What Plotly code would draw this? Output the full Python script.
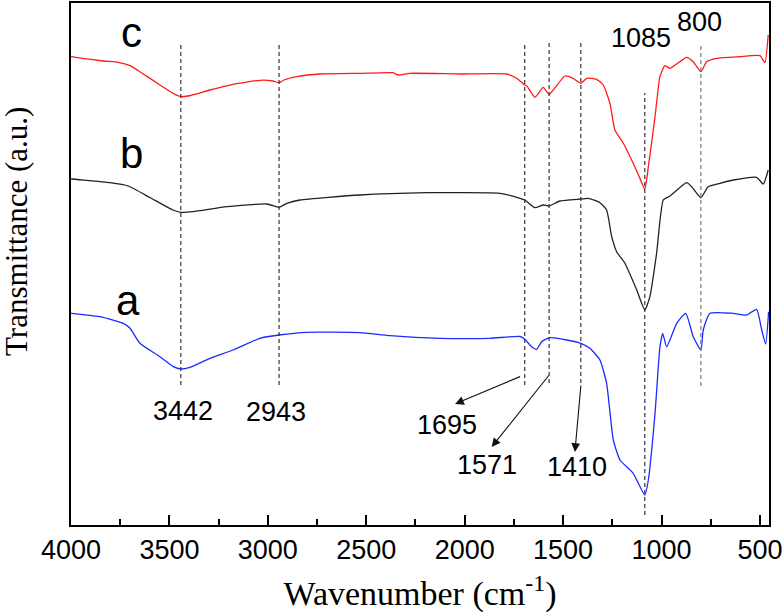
import plotly.graph_objects as go

# ---- data ----
wn_c = [4000, 3996, 3837, 3761, 3700, 3650, 3548, 3482, 3442, 3406, 3294, 3177, 3040, 2974, 2943, 2918, 2852, 2735,
        2532, 2364, 2339, 2278, 2024, 1787, 1736, 1695, 1684, 1643, 1601, 1571, 1491, 1450, 1410, 1380, 1330, 1296,
        1262, 1237, 1194, 1144, 1110, 1085, 1067, 1033, 1008, 983, 957, 872, 839, 800, 771, 720, 602, 500, 475, 458]
t_c = [468.5, 468.3, 464, 462.7, 459.3, 453.3, 440, 431.7, 428.3, 429, 435, 440.7, 444.7, 444, 442.3, 445, 448.3, 451,
       451.7, 452.3, 450, 451.7, 451, 451, 446.7, 440, 439, 427.7, 437.7, 430.7, 449, 446.7, 441.7, 446.7, 445.7, 440,
       421.7, 395, 381.7, 361.7, 346.7, 336, 358.3, 408.3, 448.3, 459.3, 456.7, 467.7, 463.3, 453.3, 463.3, 466.7,
       468.3, 469.3, 462.3, 490]

wn_b = [4000, 3995, 3802, 3710, 3599, 3482, 3442, 3380, 3208, 3004, 2943, 2903, 2837, 2532, 2192, 2024, 1821, 1719,
        1695, 1643, 1601, 1571, 1516, 1410, 1372, 1313, 1279, 1253, 1228, 1186, 1126, 1085, 1059, 1025, 991, 957,
        872, 847, 800, 763, 703, 636, 517, 483, 458]
t_b = [346.2, 346, 342.3, 339, 327.5, 315, 312.7, 313.3, 318.3, 321, 317.7, 321.7, 325, 330, 332.3, 332.3, 331.7, 326.7,
       325, 317.3, 320, 319, 324, 326, 326.7, 322.3, 315, 288.3, 273.3, 261.7, 235, 215, 228.3, 271.7, 325, 329,
       342.3, 338.3, 327.3, 338.3, 341.7, 345, 347.7, 341, 355]

wn_a = [4000, 3996, 3853, 3734, 3700, 3650, 3548, 3480, 3442, 3396, 3294, 3177, 3040, 2943, 2803, 2532, 2380, 2126,
        1872, 1719, 1695, 1660, 1634, 1609, 1567, 1482, 1410, 1364, 1313, 1279, 1245, 1211, 1144, 1085, 1067, 1033,
        1008, 994, 974, 923, 877, 839, 800, 788, 754, 636, 568, 517, 491, 471, 456]
t_a = [211.9, 211.7, 208.3, 201.7, 196.7, 181.7, 168.3, 158.3, 156, 157.7, 166.7, 175, 186.7, 190, 192.7, 192.3, 189.3,
       186.7, 186.7, 188.5, 185.7, 178.3, 175.7, 183.3, 187.3, 185, 181.7, 176.7, 165, 141.7, 85, 65, 51.7, 30, 45,
       111.7, 178.3, 191.7, 178.3, 201.7, 211.7, 188.3, 175, 195, 211.7, 211.7, 210, 215.7, 195, 181, 213.3]

# marked peaks and their dashed guide lines
peak_wn = [3442, 2943, 1695, 1571, 1410, 1085, 800]
peak_labels = ["3442", "2943", "1695", "1571", "1410", "1085", "800"]
line_top = [482, 482, 482, 483, 482, 432, 482]
line_bottom = [140, 140, 140, 142, 142, 10, 139]
line_colors = ["#333333", "#333333", "#333333", "#333333", "#333333", "#333333", "#777777"]
label_x = [3433, 2960, 2092, 1888, 1431, 1105, 805]
label_y = [114, 113, 100, 60, 58, 487, 503]
# arrows: (tail -> head) for the three labels set below the spectra
arrow_tail_wn = [1711, 1567, 1409]
arrow_tail_t = [149, 151, 141]
arrow_head_wn = [2049, 1863, 1440]
arrow_head_t = [121, 78, 73]

curve_names = ["c", "b", "a"]
curve_label_wn = [3692, 3695, 3708]
curve_label_t = [493, 372, 225]

x_ticks = [4000, 3500, 3000, 2500, 2000, 1500, 1000, 500]

fig = go.Figure()
line_shape = dict(shape="spline", smoothing=0.5)
fig.add_trace(go.Scatter(x=wn_c, y=t_c, mode="lines", line=dict(color="#ff1a1a", width=1.3, **line_shape), name="c"))
fig.add_trace(go.Scatter(x=wn_b, y=t_b, mode="lines", line=dict(color="#222222", width=1.3, **line_shape), name="b"))
fig.add_trace(go.Scatter(x=wn_a, y=t_a, mode="lines", line=dict(color="#1a2cff", width=1.3, **line_shape), name="a"))

for w, y0, y1, c in zip(peak_wn, line_bottom, line_top, line_colors):
    fig.add_shape(type="line", x0=w, x1=w, y0=y0, y1=y1, xref="x", yref="y",
                  line=dict(color=c, width=1.2, dash="4px,3px"))

for lx, ly, txt in zip(label_x, label_y, peak_labels):
    fig.add_annotation(x=lx, y=ly, text=txt, showarrow=False, xref="x", yref="y",
                       font=dict(family="Liberation Sans, Arial", size=27, color="black"))

for tx, ty, hx, hy in zip(arrow_tail_wn, arrow_tail_t, arrow_head_wn, arrow_head_t):
    fig.add_annotation(x=hx, y=hy, ax=tx, ay=ty, xref="x", yref="y", axref="x", ayref="y",
                       text="", showarrow=True, arrowhead=2, arrowsize=1.6, arrowwidth=1.1,
                       arrowcolor="#111111")

for n, lx, ly in zip(curve_names, curve_label_wn, curve_label_t):
    fig.add_annotation(x=lx, y=ly, text=n, showarrow=False, xref="x", yref="y",
                       font=dict(family="Liberation Sans, Arial", size=42, color="black"))

# y-axis title (placed as rotated text left of the plot)
fig.add_annotation(text="Transmittance (a.u.)", xref="paper", yref="paper", x=-0.079, y=0.563,
                   xanchor="center", yanchor="middle", textangle=-90, showarrow=False,
                   font=dict(family="Liberation Serif, Times New Roman", size=31, color="black"))

fig.update_layout(
    width=783, height=613,
    margin=dict(l=71, r=14, t=3, b=88),
    paper_bgcolor="white", plot_bgcolor="white",
    showlegend=False,
    xaxis=dict(
        range=[4000, 454], tickvals=x_ticks, ticktext=[str(v) for v in x_ticks],
        ticks="inside", ticklen=10, tickwidth=1.5, tickcolor="black",
        minor=dict(ticks="inside", ticklen=6, tickwidth=1.5, tickcolor="black", dtick=250, tick0=0),
        showline=True, linewidth=2, linecolor="black", mirror=True,
        showgrid=False, zeroline=False, automargin=False,
        tickfont=dict(family="Liberation Sans, Arial", size=27, color="black"),
        title=dict(text="Wavenumber (cm<sup>-1</sup>)", standoff=21,
                   font=dict(family="Liberation Serif, Times New Roman", size=34, color="black")),
    ),
    yaxis=dict(
        range=[0, 522], showticklabels=False, ticks="",
        showline=True, linewidth=2, linecolor="black", mirror=True,
        showgrid=False, zeroline=False, automargin=False,
    ),
)

fig.write_html("out.html", config={"displayModeBar": False},
               post_script="document.body.style.margin='0';document.body.style.overflow='hidden';")
